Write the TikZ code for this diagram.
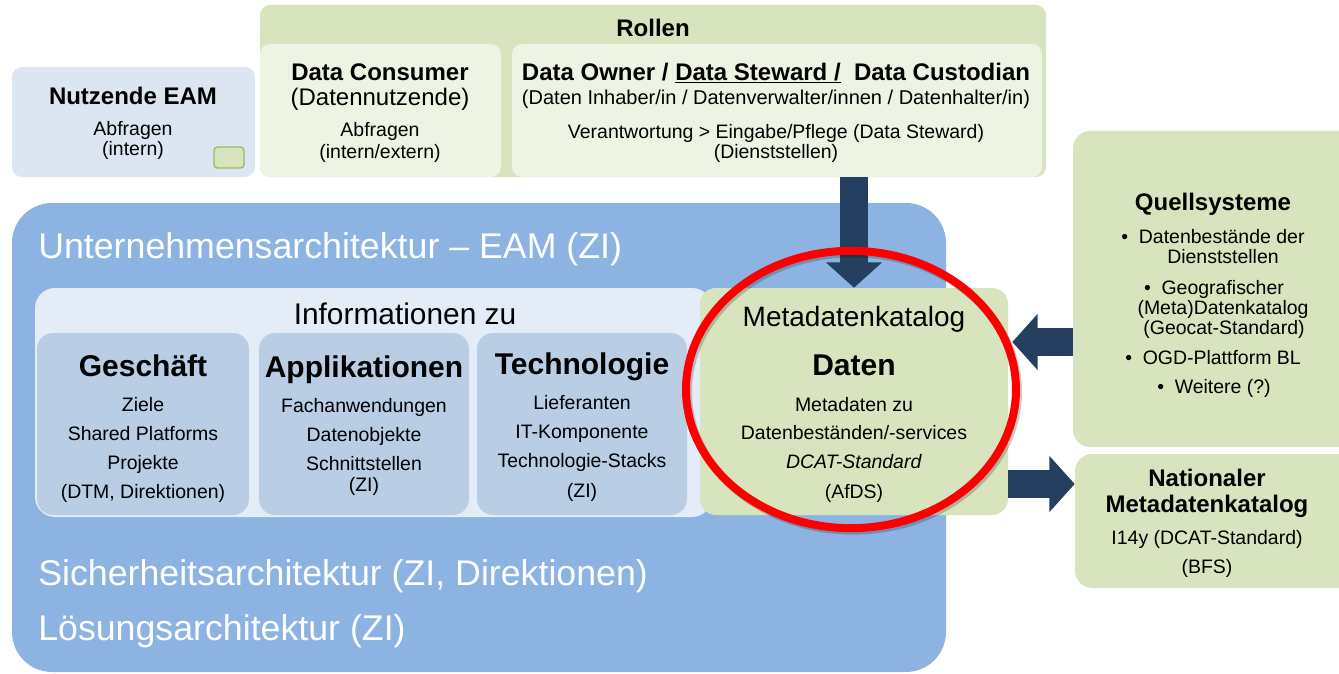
\documentclass[tikz,border=0pt]{standalone}
\usepackage{fontspec}
\setmainfont{Liberation Sans}
\usetikzlibrary{fit,shapes.geometric,arrows.meta,calc}
\definecolor{eamblue}{HTML}{8DB3E2}
\definecolor{infoblue}{HTML}{E4ECF7}
\definecolor{tileblue}{HTML}{B9CDE5}
\definecolor{userblue}{HTML}{DCE6F2}
\definecolor{rolegreen}{HTML}{D7E4BD}
\definecolor{palegreen}{HTML}{EEF4E4}
\definecolor{olive}{HTML}{9BBB59}
\definecolor{navy}{HTML}{243F60}

\begin{document}
\begin{tikzpicture}[x=0.75pt, y=-0.75pt,
 box/.style={rounded corners=7.5pt, inner sep=0pt},
 head/.style={anchor=base, font=\fontsize{18}{21}\selectfont\bfseries},
 sub/.style={anchor=base, font=\fontsize{14.6}{17}\selectfont},
 tile/.style={anchor=base, font=\fontsize{22.5}{26}\selectfont\bfseries},
 arch/.style={anchor=base west, inner sep=0pt, text=white, font=\fontsize{26.8}{32}\selectfont},
 fat/.style={draw=navy, line width=21pt, -{Triangle[width=41pt, length=19pt]}}]
\useasboundingbox (0,0) rectangle (1339,674);
\clip (0,0) rectangle (1339,674);

\node[box, fill=userblue, fit={(12,67) (255,177)}] (nutz) {};
\node[box, fill=rolegreen, fit={(260,5) (1046,177)}] (rollen) {};
\node[box, fill=palegreen, fit={(260,44) (501,177)}] (consumer) {};
\node[box, fill=palegreen, fit={(512,44) (1042,177)}] (owner) {};
\node[box, rounded corners=2.5pt, fill=rolegreen, draw=olive, line width=1pt, fit={(214,147) (244,168)}] (mini) {};

\node[head] (nutzT) at (133,104) {Nutzende EAM};
\node[sub] (nutzA) at (133,136) {Abfragen};
\node[sub] (nutzB) at (133,156) {(intern)};
\node[head] (rollT) at (653,37) {Rollen};
\node[head] (consT) at (380,80) {Data Consumer};
\node[anchor=base, font=\fontsize{18}{21}\selectfont] (consS) at (380,106) {(Datennutzende)};
\node[sub] (consA) at (380,137) {Abfragen};
\node[sub] (consB) at (380,158) {(intern/extern)};
\node[head] (ownT) at (776,80) {Data Owner / \underline{Data Steward /}\ \ Data Custodian};
\node[anchor=base, font=\fontsize{15}{18}\selectfont] (ownS) at (776,104) {(Daten Inhaber/in / Datenverwalter/innen / Datenhalter/in)};
\node[sub] (ownA) at (776,138) {Verantwortung > Eingabe/Pflege (Data Steward)};
\node[sub] (ownB) at (776,158) {(Dienststellen)};

\node[box, rounded corners=30pt, fill=eamblue, fit={(12,203) (946,672)}] (eam) {};
\node[arch] (eamT) at (38,258) {Unternehmensarchitektur – EAM (ZI)};
\node[box, rounded corners=15pt, fill=infoblue, fit={(35,288) (712,517)}] (info) {};
\node[anchor=base, font=\fontsize{22.4}{26}\selectfont] (infoT) at (405,324) {Informationen zu};

\node[box, rounded corners=12pt, fill=tileblue, fit={(37,333) (249,515)}] (gesch) {};
\node[box, rounded corners=12pt, fill=tileblue, fit={(259,333) (469,515)}] (appl) {};
\node[box, rounded corners=12pt, fill=tileblue, fit={(477,333) (687,515)}] (tech) {};
\node[box, rounded corners=12pt, fill=rolegreen, fit={(700,288) (1008,515)}] (meta) {};

\node[tile] (geschT) at (143,376) {Geschäft};
\foreach \t/\y in {Ziele/411, Shared Platforms/440, Projekte/469, {(DTM, Direktionen)}/498}
 \node[sub] (g\y) at (143,\y) {\t};
\node[tile] (applT) at (364,377) {Applikationen};
\foreach \t/\y in {Fachanwendungen/412, Datenobjekte/441, Schnittstellen/470, (ZI)/491}
 \node[sub] (a\y) at (364,\y) {\t};
\node[tile] (techT) at (582,374) {Technologie};
\foreach \t/\y in {Lieferanten/409, IT-Komponente/438, Technologie-Stacks/467, (ZI)/497}
 \node[sub] (t\y) at (582,\y) {\t};

\node[anchor=base, font=\fontsize{21}{25}\selectfont] (metaT) at (854,326) {Metadatenkatalog};
\node[tile] (metaD) at (854,375) {Daten};
\foreach \t/\y in {Metadaten zu/411, {Datenbeständen/-services}/439, \textit{DCAT-Standard}/468, (AfDS)/498}
 \node[sub] (m\y) at (854,\y) {\t};

\node[arch] (sich) at (38,585) {Sicherheitsarchitektur (ZI, Direktionen)};
\node[arch] (loes) at (38,640) {Lösungsarchitektur (ZI)};

\node[box, rounded corners=13pt, fill=rolegreen, fit={(1073,131) (1360,447)}] (quell) {};
\node[head] (quellT) at (1213,210) {Quellsysteme};
\foreach \t/\x/\y in {{\textbullet\hspace{8pt}Datenbestände der}/1213/243, Dienststellen/1223/263,
 {\textbullet\hspace{8pt}Geografischer}/1214/294, (Meta)Datenkatalog/1223/314, (Geocat-Standard)/1224/334,
 {\textbullet\hspace{8pt}OGD-Plattform BL}/1213/364, {\textbullet\hspace{8pt}Weitere (?)}/1214/393}
 \node[sub] (q\y) at (\x,\y) {\t};

\node[box, rounded corners=13pt, fill=rolegreen, fit={(1075,454) (1360,588)}] (nat) {};
\node[head] (natA) at (1207,486) {Nationaler};
\node[head] (natB) at (1207,512) {Metadatenkatalog};
\node[sub] (natC) at (1207,544) {I14y (DCAT-Standard)};
\node[sub] (natD) at (1207,573) {(BFS)};

\coordinate (inL) at (0,342);
\coordinate (outR) at (0,484);
\draw[fat] (owner.south -| meta.north) -- (meta.north);
\draw[fat, shorten >=3pt] (quell.west |- inL) -- (meta.east |- inL);
\draw[fat] (meta.east |- outR) -- (nat.west |- outR);

\node[ellipse, draw=black, opacity=0.2, line width=6pt, minimum width=247.5pt, minimum height=208pt, inner sep=0pt] (ringS) at (853,392) {};
\node[ellipse, draw=red, line width=6pt, minimum width=247.5pt, minimum height=208pt, inner sep=0pt] (ring) at (851,389.5) {};
\end{tikzpicture}
\end{document}
